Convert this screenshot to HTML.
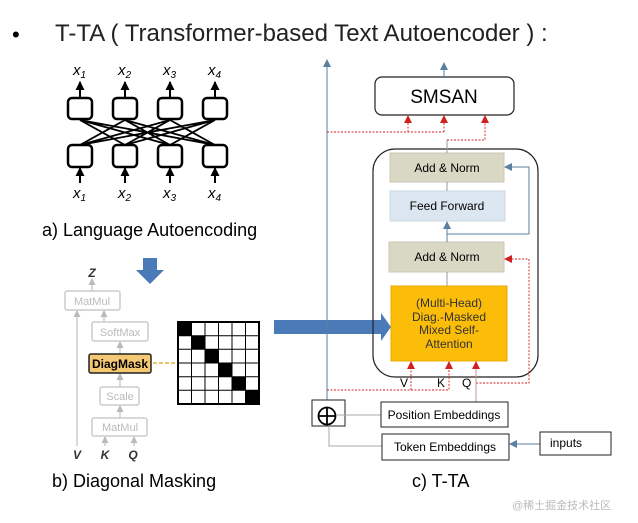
<!DOCTYPE html>
<html><head><meta charset="utf-8"><style>
body{margin:0;background:#fff;}
svg text{font-family:"Liberation Sans","Noto Sans CJK SC",sans-serif;}
</style></head><body>
<svg width="638" height="518" viewBox="0 0 638 518" xmlns="http://www.w3.org/2000/svg">
<defs>
<marker id="ab" markerUnits="userSpaceOnUse" markerWidth="9" markerHeight="9" refX="8" refY="4.5" orient="auto"><path d="M0,0 L9,4.5 L0,9z" fill="#000"/></marker>
<marker id="ar" markerUnits="userSpaceOnUse" markerWidth="8" markerHeight="8" refX="7" refY="4" orient="auto"><path d="M0,0 L8,4 L0,8z" fill="#d02020"/></marker>
<marker id="abl" markerUnits="userSpaceOnUse" markerWidth="8" markerHeight="8" refX="7" refY="4" orient="auto"><path d="M0,0 L8,4 L0,8z" fill="#5a7fa0"/></marker>
<marker id="ag" markerUnits="userSpaceOnUse" markerWidth="7" markerHeight="7" refX="6" refY="3.5" orient="auto"><path d="M0,0 L7,3.5 L0,7z" fill="#bbb"/></marker>
</defs>
<text x="12" y="42" font-size="22">•</text>
<text x="55" y="41" font-size="24" fill="#222">T-TA ( Transformer-based Text Autoencoder )  :</text>

<!-- a) -->
<g stroke="#000" stroke-width="2.5" fill="none">
<rect x="68" y="98" width="24" height="21" rx="4"/><rect x="113" y="98" width="24" height="21" rx="4"/><rect x="158" y="98" width="24" height="21" rx="4"/><rect x="203" y="98" width="24" height="21" rx="4"/>
<rect x="68" y="145" width="24" height="22" rx="4"/><rect x="113" y="145" width="24" height="22" rx="4"/><rect x="158" y="145" width="24" height="22" rx="4"/><rect x="203" y="145" width="24" height="22" rx="4"/>
<g stroke-width="1.8">
<path d="M80 145L125 120M80 145L170 120M80 145L215 120M125 145L80 120M125 145L170 120M125 145L215 120M170 145L80 120M170 145L125 120M170 145L215 120M215 145L80 120M215 145L125 120M215 145L170 120"/>
</g>
<g stroke-width="2">
<path d="M80 98V82" marker-end="url(#ab)"/><path d="M125 98V82" marker-end="url(#ab)"/><path d="M170 98V82" marker-end="url(#ab)"/><path d="M215 98V82" marker-end="url(#ab)"/>
<path d="M80 183V168" marker-end="url(#ab)"/><path d="M125 183V168" marker-end="url(#ab)"/><path d="M170 183V168" marker-end="url(#ab)"/><path d="M215 183V168" marker-end="url(#ab)"/>
</g>
</g>
<g font-family="Liberation Serif" font-style="italic" font-size="15">
<text x="73" y="75">x<tspan font-size="10" dy="3">1</tspan></text><text x="118" y="75">x<tspan font-size="10" dy="3">2</tspan></text><text x="163" y="75">x<tspan font-size="10" dy="3">3</tspan></text><text x="208" y="75">x<tspan font-size="10" dy="3">4</tspan></text>
<text x="73" y="198">x<tspan font-size="10" dy="3">1</tspan></text><text x="118" y="198">x<tspan font-size="10" dy="3">2</tspan></text><text x="163" y="198">x<tspan font-size="10" dy="3">3</tspan></text><text x="208" y="198">x<tspan font-size="10" dy="3">4</tspan></text>
</g>
<text x="42" y="236" font-size="18">a) Language Autoencoding</text>

<path d="M143 258H157V270H164L150 284L136 270H143z" fill="#4a7ab8"/>

<!-- b) -->
<g fill="none" stroke="#ccc" stroke-width="1.5">
<rect x="65" y="291" width="55" height="19" rx="2"/><rect x="92" y="322" width="56" height="19" rx="2"/><rect x="100" y="387" width="39" height="18" rx="2"/><rect x="92" y="418" width="55" height="18" rx="2"/>
<path d="M77 446V311" marker-end="url(#ag)"/><path d="M92 291V279" marker-end="url(#ag)"/><path d="M104 322V311" marker-end="url(#ag)"/><path d="M120 354V342" marker-end="url(#ag)"/><path d="M120 387V374" marker-end="url(#ag)"/><path d="M120 418V406" marker-end="url(#ag)"/><path d="M105 446V437" marker-end="url(#ag)"/><path d="M134 446V437" marker-end="url(#ag)"/>
</g>
<g font-size="11" fill="#bbb" text-anchor="middle"><text x="92" y="305">MatMul</text><text x="120" y="336">SoftMax</text><text x="120" y="400">Scale</text><text x="120" y="431">MatMul</text></g>
<rect x="89" y="354" width="62" height="19" rx="2" fill="#f5c873" stroke="#222" stroke-width="1.5"/>
<text x="120" y="368" font-size="12" font-weight="bold" text-anchor="middle">DiagMask</text>
<path d="M153 363H177" stroke="#e0b040" stroke-width="1.5" stroke-dasharray="4,2"/>
<g font-family="Liberation Serif" font-style="italic" font-weight="bold" font-size="12" fill="#333" text-anchor="middle"><text x="92" y="277">Z</text><text x="77" y="459">V</text><text x="105" y="459">K</text><text x="133" y="459">Q</text></g>
<g>
<rect x="178" y="322" width="81" height="82" fill="#fff" stroke="#000" stroke-width="2"/>
<g stroke="#000" stroke-width="1"><path d="M191.5 322V404M205 322V404M218.5 322V404M232 322V404M245.5 322V404M178 335.7H259M178 349.3H259M178 363H259M178 376.7H259M178 390.3H259"/></g>
<rect x="178" y="322" width="13.5" height="13.7"/><rect x="191.5" y="335.7" width="13.5" height="13.6"/><rect x="205" y="349.3" width="13.5" height="13.7"/><rect x="218.5" y="363" width="13.5" height="13.7"/><rect x="232" y="376.7" width="13.5" height="13.6"/><rect x="245.5" y="390.3" width="13.5" height="13.7"/>
</g>
<text x="52" y="487" font-size="18">b) Diagonal Masking</text>

<path d="M274 320H381V313L391 327L381 341V334H274z" fill="#4a7ab8"/>

<!-- c) -->
<rect x="373" y="149" width="165" height="228" rx="22" fill="none" stroke="#222" stroke-width="1.2"/>
<rect x="375" y="77" width="139" height="38" rx="7" fill="#fff" stroke="#222" stroke-width="1.2"/>
<text x="444" y="103" font-size="19" text-anchor="middle">SMSAN</text>
<rect x="390" y="153" width="114" height="29" fill="#d8d8c4" stroke="#c8c8b4"/>
<text x="447" y="172" font-size="12" text-anchor="middle">Add &amp; Norm</text>
<rect x="390" y="191" width="115" height="30" fill="#dce6f0" stroke="#cdd8e4"/>
<text x="447" y="210" font-size="12" text-anchor="middle">Feed Forward</text>
<rect x="389" y="242" width="115" height="30" fill="#d8d8c4" stroke="#c8c8b4"/>
<text x="447" y="261" font-size="12" text-anchor="middle">Add &amp; Norm</text>
<rect x="391" y="286" width="116" height="75" fill="#fbbd08" stroke="#e8aa00"/>
<g font-size="12" text-anchor="middle" fill="#333"><text x="449" y="307">(Multi-Head)</text><text x="449" y="321">Diag.-Masked</text><text x="449" y="334">Mixed Self-</text><text x="449" y="348">Attention</text></g>
<g stroke="#999" stroke-width="1" fill="none"><path d="M447 182V191M447 272V286M447 153V140"/></g>
<g stroke="#5a7fa0" stroke-width="1" fill="none">
<path d="M447 242V222" marker-end="url(#abl)"/>
<path d="M447 234H529V167H505" marker-end="url(#abl)"/>
<path d="M444 77V63" marker-end="url(#abl)"/>
<path d="M327 400V60" marker-end="url(#abl)"/>
<path d="M540 444H510" marker-end="url(#abl)"/>
</g>
<g stroke="#d02020" stroke-width="0.9" fill="none" stroke-dasharray="2,1.5">
<path d="M327 132H444"/>
<path d="M408 132V116" marker-end="url(#ar)"/>
<path d="M444 132V116" marker-end="url(#ar)"/>
<path d="M447 140H485V116" marker-end="url(#ar)"/>
<path d="M327 390H449V362" marker-end="url(#ar)"/>
<path d="M411 390V362" marker-end="url(#ar)"/>
<path d="M476 383H529V259H505" marker-end="url(#ar)"/>
</g>
<path d="M476 402V362" stroke="#d09090" stroke-width="1" marker-end="url(#ar)"/>
<g font-size="12"><text x="400" y="387">V</text><text x="437" y="387">K</text><text x="462" y="387">Q</text></g>
<rect x="312" y="400" width="33" height="26" fill="#fff" stroke="#222"/>
<circle cx="327" cy="416" r="8.5" fill="none" stroke="#000" stroke-width="1.8"/><path d="M318.5 416H335.5M327 407.5V424.5" stroke="#000" stroke-width="1.8"/>
<path d="M336 415H381M329 426V446H382" stroke="#aaa" fill="none"/>
<rect x="381" y="402" width="127" height="25" fill="#fff" stroke="#222"/>
<text x="444" y="419" font-size="12" text-anchor="middle">Position Embeddings</text>
<rect x="382" y="434" width="127" height="26" fill="#fff" stroke="#222"/>
<text x="445" y="451" font-size="12" text-anchor="middle">Token Embeddings</text>
<rect x="540" y="432" width="71" height="23" fill="#fff" stroke="#222"/>
<text x="550" y="447" font-size="12">inputs</text>
<text x="412" y="487" font-size="18">c) T-TA</text>
<text x="512" y="509" font-size="11" fill="#bbb">@稀土掘金技术社区</text>
</svg>
</body></html>
